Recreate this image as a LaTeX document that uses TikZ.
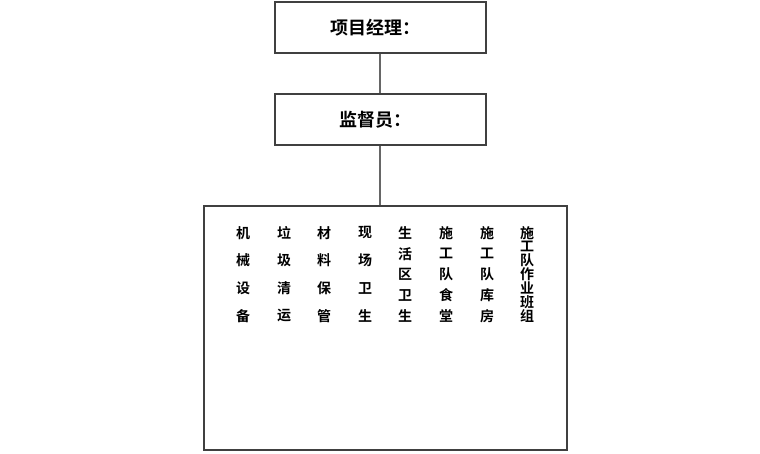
\documentclass[tikz,border=0pt]{standalone}
\usepackage{fontspec}
\newfontfamily\cjk{Noto Sans CJK SC}[BoldFont={Noto Sans CJK SC Bold}]
\begin{document}
\begin{tikzpicture}[x=1pt,y=-1pt,
  box/.style={draw=black!75,line width=1.2pt,fill=white,inner sep=0pt},
  conn/.style={draw=black!60,line width=1.2pt},
  title/.style={font=\cjk\bfseries\fontsize{18}{18}\selectfont},
  ch/.style={font=\cjk\bfseries\fontsize{14}{14}\selectfont,inner sep=0pt}]
\useasboundingbox (0,0) rectangle (760,454);
\node[box,minimum width=211pt,minimum height=51pt] (pm) at (380.5,27.5) {};
\node[title] (pmt) at (375,28) {项目经理：};
\node[box,minimum width=211pt,minimum height=51pt] (sup) at (380.5,119.5) {};
\node[title] (supt) at (375,120) {监督员：};
\node[box,minimum width=363pt,minimum height=244pt] (big) at (385.5,328) {};
\coordinate (pmb) at (380,53);
\coordinate (supa) at (380,94);
\coordinate (supb) at (380,145);
\coordinate (biga) at (380,206);
\draw[conn] (pm.south -| pmb) -- (sup.north -| supa);
\draw[conn] (sup.south -| supb) -- (big.north -| biga);
\foreach \x/\n/\chars in {243/4/{机,械,设,备},284/4/{垃,圾,清,运},324/4/{材,料,保,管},365/4/{现,场,卫,生},405/5/{生,活,区,卫,生},446/5/{施,工,队,食,堂},487/5/{施,工,队,库,房},527/7/{施,工,队,作,业,班,组}}{
  \foreach \c [count=\i from 0] in \chars {
    \node[ch] (c-\x-\i) at (\x,{233+\i*83/(\n-1)}) {\c};
  }
}
\end{tikzpicture}
\end{document}
